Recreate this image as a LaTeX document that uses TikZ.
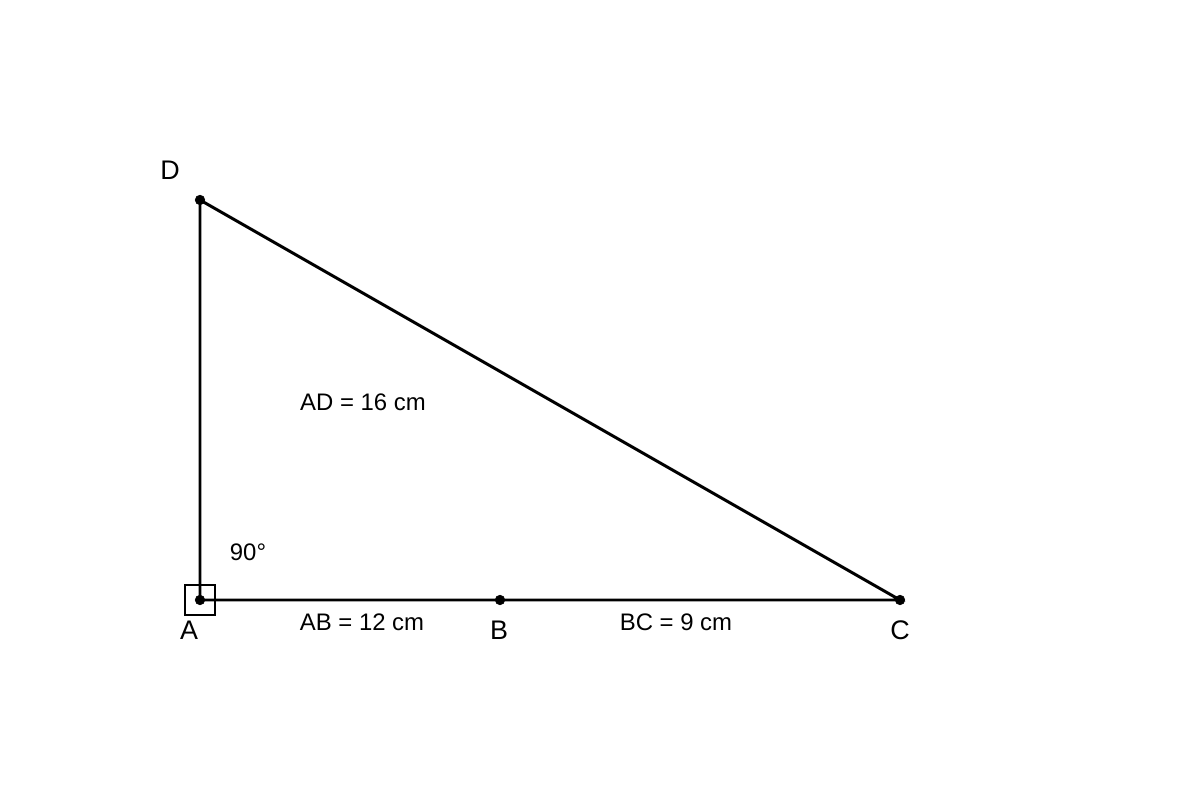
\documentclass[tikz,border=0pt]{standalone}
\usepackage{fontspec}
\setmainfont{Liberation Sans}
\usetikzlibrary{calc}
\usetikzlibrary{positioning}

\begin{document}
\begin{tikzpicture}
	[
	dot/.style = {draw,fill,circle,inner sep=0pt,minimum size=0.19cm},
	side/.style = {line width=1.7pt},
	vertex/.style = {font=\fontsize{15.3}{18}\selectfont},
	measure/.style = {font=\fontsize{13.6}{16}\selectfont}
	]
	\useasboundingbox (0,0) rectangle (24,16);
	\coordinate (A) at (4,4);
	\coordinate (B) at (10,4);
	\coordinate (C) at (18,4);
	\coordinate (D) at (4,12);

	\draw[line width=0.85pt] ($(A)+(-0.3,-0.3)$) rectangle ($(A)+(0.3,0.3)$);
	\draw[side] (D) to (A) to (C) to (D);

	\node[dot] (a) at (A) {};
	\node[dot] (b) at (B) {};
	\node[dot] (c) at (C) {};
	\node[dot] (d) at (D) {};

	\node[vertex] (la) at (3.78,3.4) {A};
	\node[vertex] (lb) at (9.98,3.4) {B};
	\node[vertex] (lc) at (18,3.4) {C};
	\node[vertex] (ld) at (3.4,12.6) {D};

	\node[measure] (ad) at (7.26,7.96) {AD = 16 cm};
	\node[measure] (ang) at (4.96,4.96) {90°};
	\node[measure] (ab) at (7.24,3.56) {AB = 12 cm};
	\node[measure] (bc) at (13.52,3.56) {BC = 9 cm};
\end{tikzpicture}
\end{document}
